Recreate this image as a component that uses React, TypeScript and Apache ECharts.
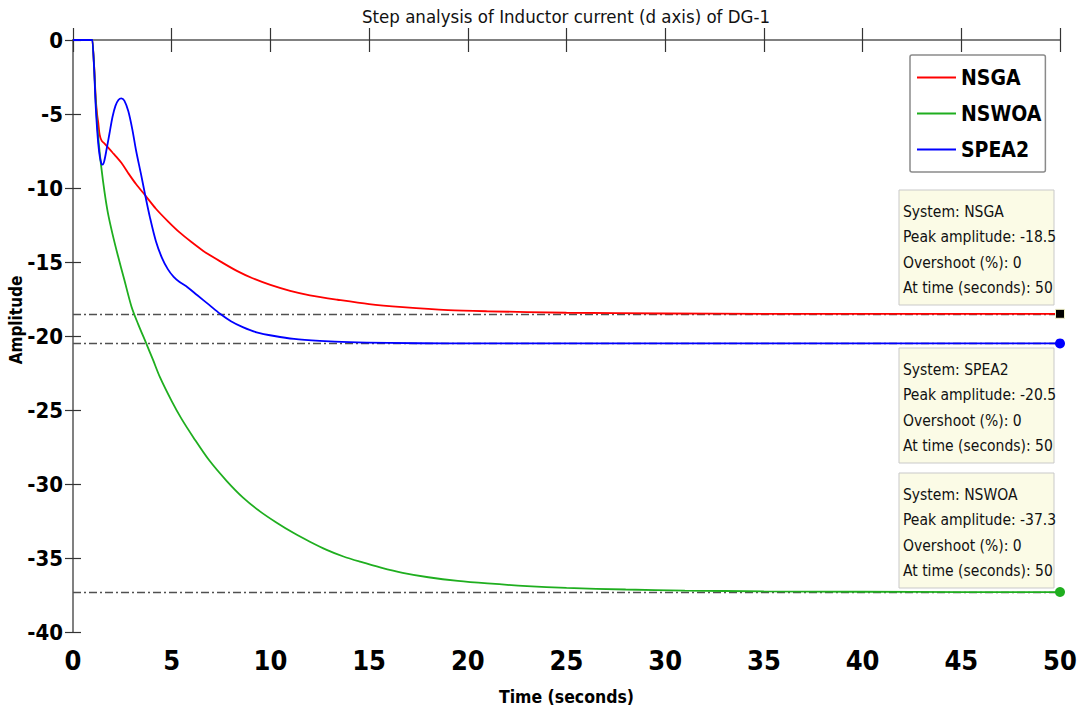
import React, { useEffect, useRef } from "react";
import * as echarts from "echarts";

const seriesNames = ["NSGA", "NSWOA", "SPEA2"];
const seriesColors = ["#ff0000", "#1fae1f", "#0000ff"];

const nsga: number[][] = [
  [0, 0], [0.99, 0], [1.02, 0], [1.08, -2.0], [1.15, -3.9], [1.22, -5.0], [1.28, -5.6], [1.35, -6.4],
  [1.45, -6.8], [1.6, -7.0], [1.77, -7.25], [2.0, -7.6], [2.2, -7.9], [2.45, -8.3], [2.8, -9.0],
  [3.2, -9.75], [3.66, -10.5], [4.2, -11.4], [4.81, -12.25], [5.4, -13.0], [6.0, -13.65], [6.6, -14.25],
  [7.45, -14.95], [8.3, -15.6], [9.1, -16.1], [10, -16.55], [11, -16.95], [12, -17.25], [13.4, -17.55],
  [15, -17.85], [16.7, -18.05], [19, -18.25], [21, -18.33], [25, -18.43], [30, -18.48], [35, -18.5], [50, -18.5],
];

const nswoa: number[][] = [
  [0, 0], [0.99, 0], [1.02, 0], [1.07, -1.8], [1.13, -3.6], [1.2, -5.2], [1.3, -6.9], [1.43, -8.56],
  [1.6, -10.3], [1.77, -11.7], [2.0, -13.1], [2.28, -14.6], [2.6, -16.2], [2.96, -18.0], [3.3, -19.2],
  [3.71, -20.5], [4.05, -21.6], [4.41, -22.8], [5.0, -24.4], [5.5, -25.6], [6.1, -26.85], [6.9, -28.4],
  [7.79, -29.8], [8.6, -30.9], [9.47, -31.85], [10.3, -32.6], [11.16, -33.3], [12, -33.9], [12.85, -34.45],
  [13.7, -34.9], [14.54, -35.25], [15.6, -35.65], [16.7, -36.0], [18, -36.3], [19.5, -36.55], [21, -36.72],
  [23, -36.9], [25, -37.02], [28, -37.13], [31, -37.2], [35, -37.25], [40, -37.28], [45, -37.3], [50, -37.3],
];

const spea2: number[][] = [
  [0, 0], [0.99, 0], [1.02, 0], [1.08, -2.2], [1.14, -4.2], [1.2, -5.6], [1.28, -7.0], [1.36, -7.9],
  [1.44, -8.35], [1.5, -8.42], [1.58, -8.2], [1.7, -7.4], [1.85, -6.3], [2.0, -5.2], [2.15, -4.45],
  [2.3, -4.05], [2.45, -3.94], [2.6, -4.1], [2.8, -4.8], [3.0, -6.0], [3.2, -7.5], [3.45, -9.1],
  [3.66, -10.5], [3.9, -12.0], [4.2, -13.6], [4.5, -14.7], [4.81, -15.5], [5.1, -16.0], [5.4, -16.35],
  [5.8, -16.7], [6.3, -17.25], [6.9, -17.9], [7.45, -18.5], [8.0, -19.0], [8.6, -19.4], [9.3, -19.75],
  [10.2, -20.0], [11.2, -20.2], [12.5, -20.33], [14, -20.42], [16, -20.47], [19, -20.5], [25, -20.5],
  [35, -20.5], [50, -20.5],
];

const peakValues = [-18.5, -37.3, -20.5]; // NSGA, NSWOA, SPEA2
const peakTime = 50;
const overshoot = [0, 0, 0];

const xTicks = { min: 0, max: 50, interval: 5 };
const yTicks = { min: -40, max: 0, interval: 5 };

const titleText = "Step analysis of Inductor current (d axis) of DG-1";
const xName = "Time (seconds)";
const yName = "Amplitude";

const FONT = "'Liberation Sans Narrow', 'DejaVu Sans Condensed', 'Liberation Sans', Arial, sans-serif";

export default function App() {
  const ref = useRef<HTMLDivElement>(null);
  useEffect(() => {
    document.body.style.margin = "0";
    const chart = echarts.init(ref.current!, undefined, { renderer: "svg" });
    const allData = [nsga, nswoa, spea2];
    const markerSymbols = ["rect", "circle", "circle"];
    const markerColors = ["#000000", seriesColors[1], seriesColors[2]];

    const series: any[] = allData.map((d, i) => ({
      name: seriesNames[i],
      type: "line",
      data: d,
      showSymbol: false,
      smooth: 0.3,
      color: seriesColors[i],
      lineStyle: { width: 1.8, color: seriesColors[i] },
      z: 3,
      markLine: {
        silent: true,
        symbol: "none",
        label: { show: false },
        lineStyle: { color: "#505050", width: 1.4, type: [8, 3, 2, 3] },
        data: [{ yAxis: peakValues[i] }],
        z: 2,
      },
      markPoint: {
        silent: true,
        symbol: markerSymbols[i],
        symbolSize: i === 0 ? 9 : 10,
        label: { show: false },
        itemStyle: { color: markerColors[i], borderColor: "#f2f2c8", borderWidth: i === 0 ? 1 : 0 },
        data: [{ coord: [peakTime, peakValues[i]] }],
      },
    }));

    const tipOrder = [0, 2, 1]; // NSGA, SPEA2, NSWOA
    const tipTops = [190, 348, 473];
    const tips = tipOrder.map((si, k) => {
      const lines = [
        `System: ${seriesNames[si]}`,
        `Peak amplitude: ${peakValues[si]}`,
        `Overshoot (%): ${overshoot[si]}`,
        `At time (seconds): ${peakTime}`,
      ];
      return {
        type: "group",
        x: 899,
        y: tipTops[k],
        children: [
          {
            type: "rect",
            shape: { x: 0, y: 0, width: 155, height: 115 },
            style: { fill: "#fbfbe6", stroke: "#c9c9c9", lineWidth: 1 },
          },
          ...lines.map((t, j) => ({
            type: "text",
            x: 4,
            y: 21.5 + j * 25.5,
            style: {
              text: t,
              fontSize: 15.5,
              fontFamily: FONT,
              fill: "#111",
              textVerticalAlign: "middle",
              verticalAlign: "middle",
            },
          })),
        ],
      };
    });

    chart.setOption({
      animation: false,
      backgroundColor: "#ffffff",
      grid: { left: 73, top: 40, width: 987, height: 592, containLabel: false, outerBoundsMode: "none" },
      legend: {
        data: seriesNames,
        orient: "vertical",
        left: 910,
        top: 55,
        padding: [12, 4, 12, 7],
        itemGap: 15,
        itemWidth: 39,
        itemHeight: 2,
        icon: "rect",
        backgroundColor: "#ffffff",
        borderColor: "#8a8a8a",
        borderWidth: 1.5,
        borderRadius: 2,
        textStyle: { fontSize: 21, fontWeight: "bold", fontFamily: FONT, color: "#000" },
      },
      xAxis: [
        {
          type: "value",
          ...xTicks,
          position: "bottom",
          name: xName,
          nameLocation: "middle",
          nameGap: 56,
          nameTextStyle: { fontSize: 17.5, fontWeight: "bold", fontFamily: FONT, color: "#000" },
          axisLine: { show: true, lineStyle: { color: "#808080", width: 2 } },
          axisTick: { show: true, inside: true, length: 12, lineStyle: { color: "#333", width: 1.2 } },
          axisLabel: { fontSize: 27, fontWeight: "bold", fontFamily: FONT, color: "#000", margin: 15 },
          splitLine: { show: false },
        },
        {
          type: "value",
          ...xTicks,
          position: "top",
          axisLine: { show: true, lineStyle: { color: "#808080", width: 2 } },
          axisTick: { show: true, inside: true, length: 12, lineStyle: { color: "#333", width: 1.2 } },
          axisLabel: { show: false },
          splitLine: { show: false },
        },
      ],
      yAxis: [
        {
          type: "value",
          ...yTicks,
          position: "left",
          axisLine: { show: true, lineStyle: { color: "#808080", width: 2 } },
          axisTick: { show: true, inside: true, length: 8, lineStyle: { color: "#333", width: 1.2 } },
          axisLabel: { fontSize: 22, fontWeight: "bold", fontFamily: FONT, color: "#000", margin: 10 },
          splitLine: { show: false },
        },
        {
          type: "value",
          ...yTicks,
          position: "right",
          axisLine: { show: true, lineStyle: { color: "#808080", width: 2 } },
          axisTick: { show: true, inside: true, length: 8, lineStyle: { color: "#333", width: 1.2 } },
          axisLabel: { show: false },
          splitLine: { show: false },
        },
      ],
      series,
      graphic: [
        {
          type: "text",
          x: 566,
          y: 16,
          style: {
            text: titleText,
            fontSize: 18.5,
            fontFamily: FONT,
            fill: "#111",
            textAlign: "center",
            align: "center",
            textVerticalAlign: "middle",
            verticalAlign: "middle",
          },
        },
        {
          type: "text",
          x: 16,
          y: 320,
          rotation: Math.PI / 2,
          style: {
            text: yName,
            fontSize: 17,
            fontWeight: "bold",
            fontFamily: FONT,
            fill: "#000",
            textAlign: "center",
            align: "center",
            textVerticalAlign: "middle",
            verticalAlign: "middle",
          },
        },
        ...tips,
      ],
    });
    return () => chart.dispose();
  }, []);
  return <div ref={ref} style={{ width: 1081, height: 717 }} />;
}
